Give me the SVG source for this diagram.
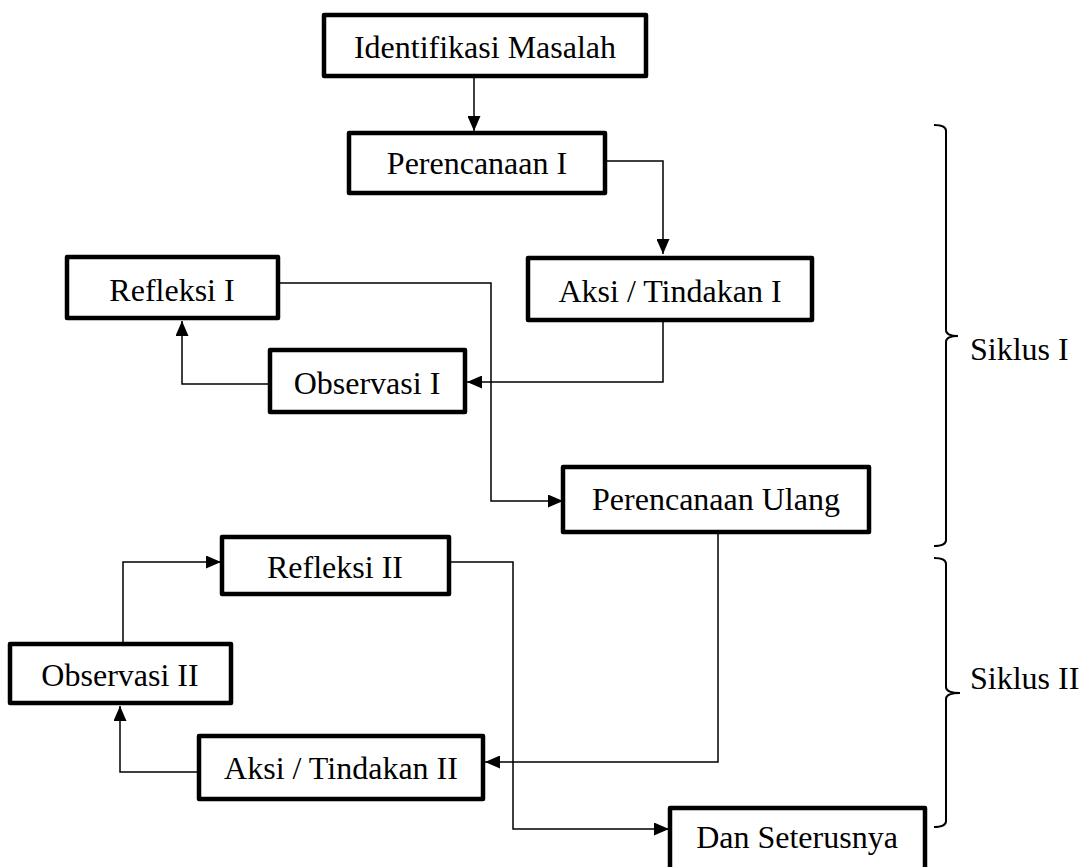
<svg xmlns="http://www.w3.org/2000/svg" width="1084" height="867" viewBox="0 0 1084 867">
<style>
.box{fill:#fff;stroke:#000;stroke-width:4.5;stroke-linejoin:round}
.t{font-family:"Liberation Serif","Times New Roman",serif;font-size:32px;fill:#000;text-anchor:middle}
.lbl{font-family:"Liberation Serif","Times New Roman",serif;font-size:32px;fill:#000}
.c{fill:none;stroke:#000;stroke-width:1.5}
.br{fill:none;stroke:#000;stroke-width:2}
</style>
<defs>
<marker id="ah" viewBox="0 0 15 13" refX="15" refY="6.5" markerWidth="15" markerHeight="13" markerUnits="userSpaceOnUse" orient="auto">
<path d="M0,0 L15,6.5 L0,13 Z" fill="#000"/>
</marker>
</defs>
<rect width="1084" height="867" fill="#fff"/>
<g id="connectors">
<path class="c" d="M474,77 L474,131" marker-end="url(#ah)"/>
<path class="c" d="M605,161 L663,161 L663,254" marker-end="url(#ah)"/>
<path class="c" d="M663,320 L663,382 L467,382" marker-end="url(#ah)"/>
<path class="c" d="M270,384 L182,384 L182,321" marker-end="url(#ah)"/>
<path class="c" d="M278,283 L491,283 L491,501 L563,501" marker-end="url(#ah)"/>
<path class="c" d="M718,532 L718,762 L485,762" marker-end="url(#ah)"/>
<path class="c" d="M199,772 L120,772 L120,706" marker-end="url(#ah)"/>
<path class="c" d="M123,644 L123,562 L221,562" marker-end="url(#ah)"/>
<path class="c" d="M449,562 L513,562 L513,829 L669,829" marker-end="url(#ah)"/>
</g>
<g id="n1"><rect class="box" x="324" y="15" width="322" height="61"/><text class="t" x="485" y="58">Identifikasi Masalah</text></g>
<g id="n2"><rect class="box" x="349" y="133" width="256" height="60"/><text class="t" x="477" y="174">Perencanaan I</text></g>
<g id="n3"><rect class="box" x="528" y="258" width="284" height="62"/><text class="t" x="670" y="302">Aksi / Tindakan I</text></g>
<g id="n4"><rect class="box" x="67" y="257" width="211" height="61"/><text class="t" x="172" y="301">Refleksi I</text></g>
<g id="n5"><rect class="box" x="270" y="350" width="195" height="62"/><text class="t" x="367" y="394">Observasi I</text></g>
<g id="n6"><rect class="box" x="563" y="467" width="306" height="65"/><text class="t" x="716" y="510">Perencanaan Ulang</text></g>
<g id="n7"><rect class="box" x="222" y="537" width="227" height="57"/><text class="t" x="335" y="578">Refleksi II</text></g>
<g id="n8"><rect class="box" x="10" y="644" width="221" height="59"/><text class="t" x="120" y="686">Observasi II</text></g>
<g id="n9"><rect class="box" x="199" y="736" width="284" height="63"/><text class="t" x="341" y="779">Aksi / Tindakan II</text></g>
<g id="n10"><rect class="box" x="670" y="808" width="255" height="64"/><text class="t" x="797" y="848">Dan Seterusnya</text></g>
<g id="brace1">
<path class="br" d="M934,125 Q946,125 946,131 L946,330 Q946,336 958,336 Q946,336 946,342 L946,540 Q946,546 934,546"/>
<text class="lbl" x="970" y="360">Siklus I</text>
</g>
<g id="brace2">
<path class="br" d="M934,558 Q946,558 946,564 L946,687 Q946,693 960,693 Q946,693 946,699 L946,821 Q946,827 934,827"/>
<text class="lbl" x="970" y="689">Siklus II</text>
</g>
</svg>
